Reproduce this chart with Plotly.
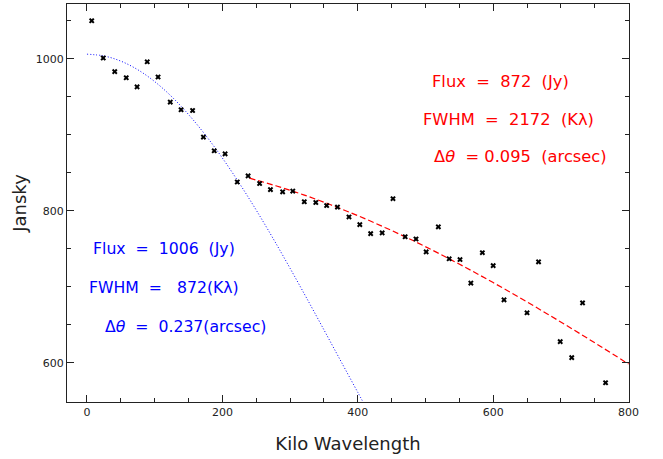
import plotly.graph_objects as go

# Observed visibilities (kilo-wavelength, Jansky)
uv_dist = [7, 24, 41, 58, 74, 89, 105, 123, 139, 156, 172, 188, 204, 222, 238,
           255, 271, 289, 304, 321, 338, 354, 370, 387, 403, 419, 436, 452, 470,
           486, 501, 519, 535, 551, 567, 584, 600, 616, 650, 667, 699, 716, 732, 766]
flux_jy = [1050, 1001, 983, 975, 963, 996, 976, 943, 933, 932, 897, 879, 875, 838, 846,
           836, 828, 825, 826, 812, 811, 807, 805, 792, 782, 770, 771, 816, 766,
           763, 746, 779, 737, 736, 705, 745, 728, 683, 666, 733, 628, 607, 679, 574]

# Broad component (blue dotted curve)
blue_u = [0, 25, 50, 75, 100, 125, 150, 175, 200, 225, 250, 275, 300, 325, 350, 375, 400, 410]
blue_v = [1006, 1003.7, 996.9, 985.6, 970.0, 950.3, 926.7, 899.7, 869.5, 836.4, 801.0,
          763.6, 724.5, 684.4, 643.6, 602.4, 561.4, 545.0]

# Compact component (red dashed curve)
red_u = [240, 280, 320, 360, 400, 440, 480, 520, 560, 600, 640, 680, 720, 760, 800]
red_v = [843.0, 832.7, 821.1, 808.0, 793.7, 778.2, 761.6, 743.9, 725.2, 705.7,
         685.4, 664.5, 643.0, 621.0, 598.6]

x_ticks = [0, 200, 400, 600, 800]
y_ticks = [600, 800, 1000]

red_text = ["Flux  =  872  (Jy)", "FWHM  =  2172  (Kλ)", "Δ<i>θ</i>  = 0.095  (arcsec)"]
blue_text = ["Flux  =  1006  (Jy)", "FWHM  =   872(Kλ)", "Δ<i>θ</i>  =  0.237(arcsec)"]

FONT = "DejaVu Sans, Verdana, sans-serif"

fig = go.Figure()
fig.add_trace(go.Scatter(x=blue_u, y=blue_v, mode="lines", line_shape="spline",
                         line=dict(color="#0000ff", width=1, dash="1px,2px"),
                         showlegend=False, hoverinfo="skip"))
fig.add_trace(go.Scatter(x=red_u, y=red_v, mode="lines", line_shape="spline",
                         line=dict(color="#ff0000", width=1.2, dash="6px,3px"),
                         showlegend=False, hoverinfo="skip"))
fig.add_trace(go.Scatter(x=uv_dist, y=flux_jy, mode="markers",
                         marker=dict(symbol="x", size=5, color="black",
                                     line=dict(width=0)),
                         showlegend=False))

red_pos = [(611.5, 969.7), (622.5, 920.3), (639.9, 871)]
blue_pos = [(114.0, 750.5), (113.6, 699.2), (144.8, 648.3)]
for t, (x, y) in zip(red_text, red_pos):
    fig.add_annotation(x=x, y=y, text=t, showarrow=False, xanchor="center", yanchor="middle",
                       font=dict(family=FONT, size=16.3, color="#ff0000"))
for t, (x, y) in zip(blue_text, blue_pos):
    fig.add_annotation(x=x, y=y, text=t, showarrow=False, xanchor="center", yanchor="middle",
                       font=dict(family=FONT, size=15.7, color="#0000ff"))

axis_common = dict(showgrid=False, zeroline=False, showline=True, linecolor="#222",
                   linewidth=1, mirror="ticks", ticks="inside", ticklen=7,
                   tickcolor="#222", tickwidth=1,
                   tickfont=dict(family=FONT, size=11, color="#222"))

fig.update_xaxes(range=[-29.5, 800.6], tickvals=x_ticks,
                 title=dict(text="Kilo Wavelength", font=dict(family=FONT, size=18, color="#222"),
                            standoff=19),
                 minor=dict(dtick=50, tick0=0, ticks="inside", ticklen=4, tickcolor="#222"),
                 **axis_common)
fig.update_yaxes(range=[548.7, 1072], tickvals=y_ticks,
                 title=dict(text="Jansky", font=dict(family=FONT, size=18, color="#222"),
                            standoff=4),
                 minor=dict(dtick=50, tick0=0, ticks="inside", ticklen=4, tickcolor="#222"),
                 **axis_common)

fig.update_layout(width=663, height=459,
                  margin=dict(l=67, r=34, t=4, b=57, autoexpand=False),
                  paper_bgcolor="white", plot_bgcolor="white",
                  showlegend=False)

fig.write_html("out.html", config={"displayModeBar": False},
               post_script="document.body.style.margin='0';")
